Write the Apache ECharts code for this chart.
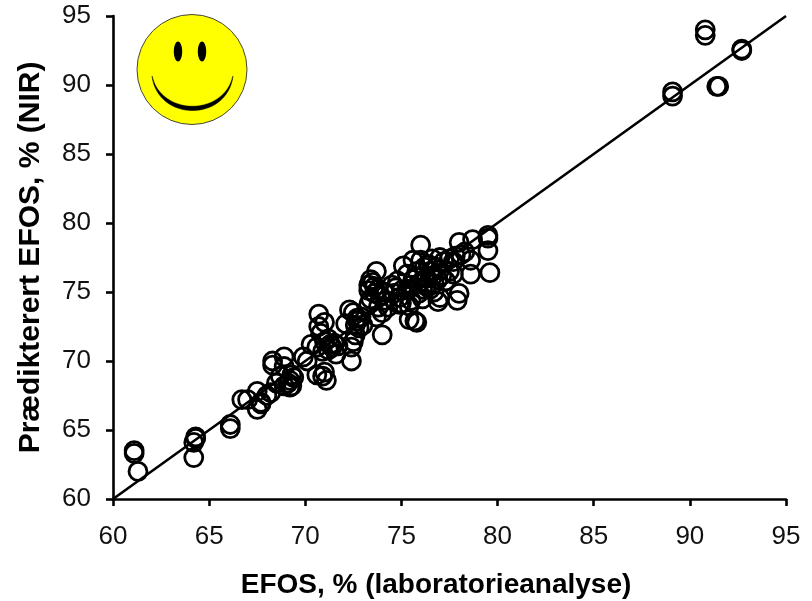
<!DOCTYPE html>
<html><head><meta charset="utf-8">
<style>html,body{margin:0;padding:0;background:#fff}#c{width:812px;height:601px}</style>
<script src="https://cdn.jsdelivr.net/npm/echarts@6/dist/echarts.min.js"></script>
</head><body><div id="c"></div>
<script>
const xTitle = 'EFOS, % (laboratorieanalyse)';
const yTitle = 'Prædikterert EFOS, % (NIR)';
const fitLine = [[60,60],[95,95]];
const lowPoints = [[61.1,63.5],[61.1,63.3],[61.3,62.0],[64.2,63.0],[64.2,64.1],[64.3,64.5],[64.3,64.4],[66.1,65.1],[66.1,65.4],
[66.7,67.2],[67.0,67.2],[67.5,66.5],[67.5,67.8],[67.7,67.0],[67.7,66.9],[68.0,67.5],[68.2,67.7],[68.3,69.7],[68.3,70.0],[68.5,68.4],[68.9,68.2],[68.9,69.6],[68.9,70.3],[69.2,68.1],[69.2,68.6],[69.3,69.0],[69.3,68.2],[69.9,70.3],[68.7,68.9],[69.1,68.4],[69.4,68.8]];
const midPoints = [[70.1,70.0],[70.3,71.2],[70.6,71.0],[70.6,69.0],[70.7,73.4],[70.7,72.5],[70.9,68.9],[71.0,71.4],[71.0,72.8],[71.0,69.2],[71.1,68.6],[71.2,70.8],[71.3,71.2],[71.4,71.0],[71.6,70.5],[71.5,71.3],[70.8,72.0],[71.2,71.6],[70.9,70.7],[71.7,71.1],[72.1,72.7],[72.3,73.7],[72.4,70.0],[72.4,71.0],[72.5,71.4],[72.6,72.6],[72.7,73.1],[72.8,72.4],[72.7,72.9],[73.0,72.6],[72.5,73.5],[72.9,73.2],[72.6,71.9],[73.3,75.5],[73.3,75.1],[73.4,74.5],[73.5,75.7],[73.6,74.9],[73.7,76.5],[73.7,73.2],[73.8,75.2],[74.0,71.9],[74.0,73.5],[74.2,74.4],[74.5,75.5],[74.7,75.3],[74.9,74.6],[73.3,74.1],[73.6,75.4],[73.9,74.7],[74.1,75.0],[73.4,75.9],[73.8,73.9],[74.3,73.9],[74.6,74.9],[74.8,75.8],[74.9,74.1]];
const upperPoints = [[75.0,74.2],[75.0,75.1],[75.1,76.9],[75.4,73.0],[75.4,74.0],[75.5,75.5],[75.6,77.3],[75.7,72.9],[75.8,72.8],[75.9,74.9],[76.0,78.4],[76.0,77.3],[76.1,74.5],[76.3,76.0],[76.5,75.2],[76.5,76.5],[76.6,77.4],[76.7,75.6],[76.9,74.3],[77.0,74.6],[77.0,77.5],[77.1,76.2],[77.2,77.2],[77.5,76.5],[77.7,76.3],[77.7,77.2],[77.9,74.4],[78.0,74.9],[78.0,78.6],[78.1,77.7],[78.3,77.9],[78.6,76.3],[78.6,77.3],[78.7,78.8],[79.5,78.9],[79.5,79.1],[79.5,78.0],[79.6,76.4],[75.3,76.3],[75.6,75.9],[75.8,76.5],[75.3,75.2],[75.5,74.4],[75.9,75.6],[76.2,76.8],[76.3,75.4],[76.4,77.0],[76.6,76.1],[76.8,76.8],[76.9,75.9],[77.0,76.6],[77.3,75.8],[77.5,77.4],[77.8,77.6],[76.1,75.2],[76.7,75.0]];
const highPoints = [[89.1,89.2],[89.1,89.5],[90.8,93.6],[90.8,94.0],[91.4,89.9],[91.5,89.9],[92.7,92.5],[92.7,92.6]];
const points = [...lowPoints, ...midPoints, ...upperPoints, ...highPoints];

const font = '"Liberation Sans", Arial, sans-serif';
const axisCommon = {
  type:'value', min:60, max:95, interval:5, splitLine:{show:false},
  axisLine:{show:true,onZero:false,lineStyle:{color:'#000',width:2.6}},
  axisTick:{show:true,length:7,lineStyle:{color:'#000',width:2.6}},
  nameLocation:'middle',
  nameTextStyle:{color:'#000',fontFamily:font,fontSize:28,fontWeight:'bold'}
};
const chart = echarts.init(document.getElementById('c'),null,{renderer:'canvas'});
chart.setOption({
  animation:false,
  backgroundColor:'#fff',
  grid:{left:113,right:26,top:16,bottom:102,outerBoundsMode:'none'},
  xAxis:Object.assign({},axisCommon,{name:xTitle,nameGap:72,nameTextStyle:Object.assign({},axisCommon.nameTextStyle,{padding:[0,27,0,0]}),axisLabel:{color:'#111',fontFamily:font,fontSize:26,margin:25}}),
  yAxis:Object.assign({},axisCommon,{name:yTitle,nameGap:67,nameTextStyle:Object.assign({},axisCommon.nameTextStyle,{fontSize:30}),axisLabel:{color:'#111',fontFamily:font,fontSize:26,margin:22}}),
  series:[
    {type:'line',data:fitLine,showSymbol:false,silent:true,lineStyle:{color:'#000',width:2.6},z:2},
    {type:'scatter',data:points,symbol:'circle',symbolSize:18,
     itemStyle:{color:'rgba(0,0,0,0)',borderColor:'#000',borderWidth:2.8,opacity:1},z:3}
  ],
  graphic:[
    {type:'circle',z:10,shape:{cx:192,cy:69.5,r:55},style:{fill:'#ffff00',stroke:'#444',lineWidth:1}},
    {type:'ellipse',z:11,shape:{cx:178,cy:51.5,rx:4.2,ry:10},style:{fill:'#000'}},
    {type:'ellipse',z:11,shape:{cx:202,cy:51.5,rx:4.2,ry:10},style:{fill:'#000'}},
    {type:'bezierCurve',z:11,shape:{x1:152,y1:76,x2:233,y2:76,cpx1:158,cpy1:122,cpx2:227,cpy2:122},style:{fill:'#000',stroke:'#000',lineWidth:0.6}},
    {type:'bezierCurve',z:12,shape:{x1:152.5,y1:75,x2:232.5,y2:75,cpx1:160,cpy1:116,cpx2:225,cpy2:116},style:{fill:'#ffff00',stroke:'#ffff00',lineWidth:0.5}}
  ]
});
</script></body></html>
